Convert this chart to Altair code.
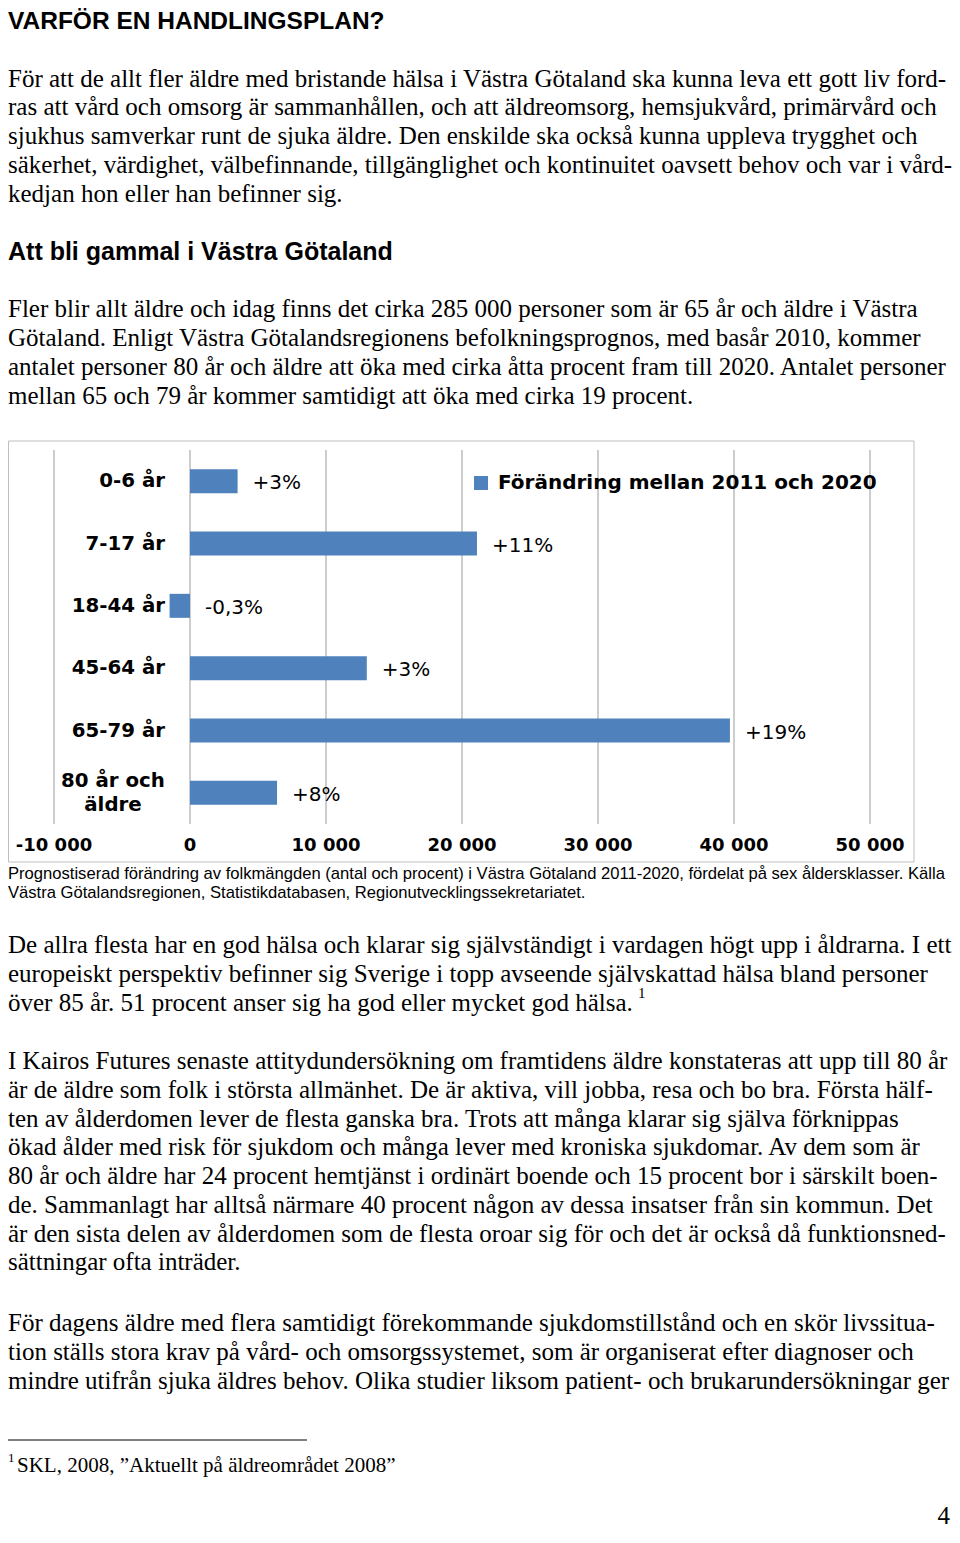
import altair as alt
import pandas as pd

# ---------------- text content ----------------
title_text = "VARFÖR EN HANDLINGSPLAN?"
para1 = [
    "För att de allt fler äldre med bristande hälsa i Västra Götaland ska kunna leva ett gott liv ford-",
    "ras att vård och omsorg är sammanhållen, och att äldreomsorg, hemsjukvård, primärvård och",
    "sjukhus samverkar runt de sjuka äldre. Den enskilde ska också kunna uppleva trygghet och",
    "säkerhet, värdighet, välbefinnande, tillgänglighet och kontinuitet oavsett behov och var i vård-",
    "kedjan hon eller han befinner sig.",
]
subheading = "Att bli gammal i Västra Götaland"
para2 = [
    "Fler blir allt äldre och idag finns det cirka 285 000 personer som är 65 år och äldre i Västra",
    "Götaland. Enligt Västra Götalandsregionens befolkningsprognos, med basår 2010, kommer",
    "antalet personer 80 år och äldre att öka med cirka åtta procent fram till 2020. Antalet personer",
    "mellan 65 och 79 år kommer samtidigt att öka med cirka 19 procent.",
]
caption = [
    "Prognostiserad förändring av folkmängden (antal och procent) i Västra Götaland 2011-2020, fördelat på sex åldersklasser. Källa",
    "Västra Götalandsregionen, Statistikdatabasen, Regionutvecklingssekretariatet.",
]
para3 = [
    "De allra flesta har en god hälsa och klarar sig självständigt i vardagen högt upp i åldrarna. I ett",
    "europeiskt perspektiv befinner sig Sverige i topp avseende självskattad hälsa bland personer",
    "över 85 år. 51 procent anser sig ha god eller mycket god hälsa.",
]
para4 = [
    "I Kairos Futures senaste attitydundersökning om framtidens äldre konstateras att upp till 80 år",
    "är de äldre som folk i största allmänhet. De är aktiva, vill jobba, resa och bo bra. Första hälf-",
    "ten av ålderdomen lever de flesta ganska bra. Trots att många klarar sig själva förknippas",
    "ökad ålder med risk för sjukdom och många lever med kroniska sjukdomar. Av dem som är",
    "80 år och äldre har 24 procent hemtjänst i ordinärt boende och 15 procent bor i särskilt boen-",
    "de. Sammanlagt har alltså närmare 40 procent någon av dessa insatser från sin kommun. Det",
    "är den sista delen av ålderdomen som de flesta oroar sig för och det är också då funktionsned-",
    "sättningar ofta inträder.",
]
para5 = [
    "För dagens äldre med flera samtidigt förekommande sjukdomstillstånd och en skör livssitua-",
    "tion ställs stora krav på vård- och omsorgssystemet, som är organiserat efter diagnoser och",
    "mindre utifrån sjuka äldres behov. Olika studier liksom patient- och brukarundersökningar ger",
]
footnote_mark = "1"
footnote = "SKL, 2008, \u201dAktuellt på äldreområdet 2008\u201d"
page_number = "4"

# ---------------- chart data ----------------
categories = ["0-6 år", "7-17 år", "18-44 år", "45-64 år", "65-79 år", "80 år och äldre"]
category_lines = [["0-6 år"], ["7-17 år"], ["18-44 år"], ["45-64 år"], ["65-79 år"], ["80 år och", "äldre"]]
change = [3500, 21100, -1500, 13000, 39700, 6400]
change_pct = ["+3%", "+11%", "-0,3%", "+3%", "+19%", "+8%"]
series_name = "Förändring mellan 2011 och 2020"
tick_values = [-10000, 0, 10000, 20000, 30000, 40000, 50000]
tick_labels = ["-10 000", "0", "10 000", "20 000", "30 000", "40 000", "50 000"]

W, H = 944, 1522
SERIF = "Liberation Serif"
SANS = "Liberation Sans"
CFONT = "DejaVu Sans"
GRID = "#9b9b9b"
BLUE = "#4F81BD"

bars_df = pd.DataFrame({
    "cat": categories,
    "lines": category_lines,
    "change": change,
    "pct": change_pct,
    "serie": [series_name] * len(categories),
})
ticks_df = pd.DataFrame({"tick": tick_values, "tlabel": tick_labels})
one = pd.DataFrame({"k": [0]})

xs = alt.Scale(domain=[-10000, 50000], range=[46, 862], nice=False, zero=False)
ys = alt.Scale(domain=categories, range=[442, 816], paddingInner=0.615, paddingOuter=0.3075)


def block(lines, x, y, size, font=SERIF, weight="normal", lh=28.75, align="left"):
    return alt.Chart(one).mark_text(
        text=lines, font=font, fontSize=size, fontWeight=weight, lineHeight=lh,
        align=align, baseline="alphabetic", color="black",
    ).encode(x=alt.value(x), y=alt.value(y))


# page text
layers = [
    block([title_text], 0, 21, 24.5, font=SANS, weight="bold"),
    block(para1, 0, 78.5, 25),
    block([subheading], 0, 252, 25, font=SANS, weight="bold"),
    block(para2, 0, 309.3, 25),
    block(caption, 0, 870.5, 16.6, font=SANS, lh=19),
    block(para3, 0, 945, 25),
    block([footnote_mark], 630, 990, 15),
    block(para4, 0, 1061, 25),
    block(para5, 0, 1323, 25),
    block([footnote_mark], 0, 1454, 13),
    block([footnote], 9, 1463.5, 21),
    block([page_number], W - 2, 1516, 25, align="right"),
]

footrule = alt.Chart(one).mark_rule(color="black", strokeWidth=1).encode(
    x=alt.value(0), x2=alt.value(299), y=alt.value(1432)
)
frame = alt.Chart(one).mark_rect(fill="white", stroke="#bfbfbf", strokeWidth=1).encode(
    x=alt.value(0.5), x2=alt.value(906), y=alt.value(433), y2=alt.value(854)
)

grid = alt.Chart(ticks_df).mark_rule(color=GRID, strokeWidth=1).encode(
    x=alt.X("tick:Q", scale=xs, axis=None), y=alt.value(442), y2=alt.value(816)
)
tick_text = alt.Chart(ticks_df).mark_text(
    font=CFONT, fontSize=18, fontWeight="bold", color="black", align="center", baseline="middle"
).encode(x=alt.X("tick:Q", scale=xs, axis=None), y=alt.value(838), text="tlabel:N")

bars = alt.Chart(bars_df).mark_bar(stroke=None).encode(
    x=alt.X("change:Q", scale=xs, title=None,
            axis=alt.Axis(labels=False, grid=False, ticks=True, tickSize=6, tickColor=GRID,
                          domain=True, domainColor=GRID, values=tick_values, offset=-(H - 816),
                          title=None)),
    y=alt.Y("cat:N", scale=ys, title=None,
            axis=alt.Axis(labels=False, grid=False, domain=False, ticks=True, tickBand="extent",
                          tickSize=7, tickColor=GRID, offset=-182, title=None)),
    color=alt.Color("serie:N", scale=alt.Scale(range=[BLUE]),
                    legend=alt.Legend(orient="none", legendX=463, legendY=465, title=None,
                                      symbolType="square", symbolSize=196, symbolStrokeWidth=0,
                                      labelFont=CFONT, labelFontWeight="bold", labelFontSize=20,
                                      labelColor="black", padding=0, labelOffset=7, labelLimit=0)),
)

value_text = alt.Chart(bars_df).transform_calculate(
    pos="max(datum.change, 0)"
).mark_text(
    font=CFONT, fontSize=20, color="black", align="left", baseline="middle", dx=15, dy=2
).encode(
    x=alt.X("pos:Q", scale=xs, axis=None),
    y=alt.Y("cat:N", scale=ys, axis=None),
    text="pct:N",
)

cat_single = alt.Chart(bars_df).transform_calculate(
    n="length(datum.lines)"
).transform_filter("datum.n == 1").mark_text(
    font=CFONT, fontSize=19.8, fontWeight="bold", color="black", align="right", baseline="middle"
).encode(x=alt.value(157), y=alt.Y("cat:N", scale=ys, axis=None), text="cat:N")

cat_multi = alt.Chart(bars_df).transform_calculate(
    n="length(datum.lines)"
).transform_filter("datum.n > 1").mark_text(
    font=CFONT, fontSize=19.8, fontWeight="bold", color="black", align="center",
    baseline="middle", lineHeight=24, dy=-12
).encode(x=alt.value(105), y=alt.Y("cat:N", scale=ys, axis=None), text="lines")

chart = alt.layer(
    frame, grid, bars, value_text, cat_single, cat_multi, tick_text,
    footrule, *layers
).properties(
    width=W, height=H, padding=0, autosize=alt.AutoSizeParams(type="none")
).configure_view(stroke=None)

chart.save("out.html", embed_options={"renderer": "svg", "actions": False})
